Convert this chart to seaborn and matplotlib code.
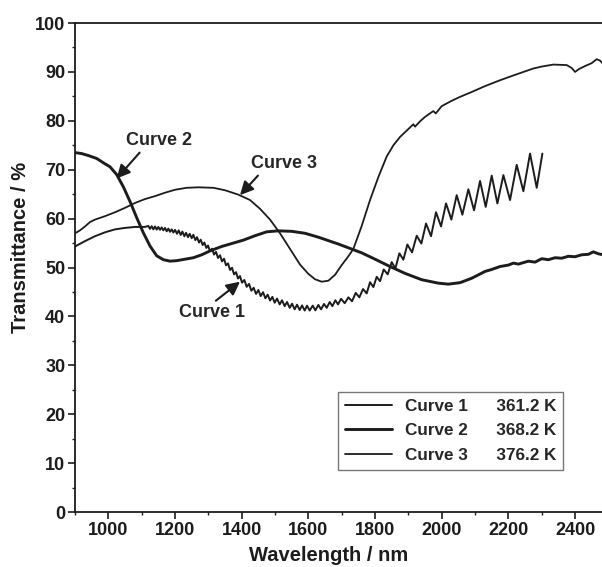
import pandas as pd
import matplotlib
matplotlib.use("Agg")
import matplotlib.pyplot as plt
import seaborn as sns
from matplotlib.ticker import MultipleLocator

sns.set_style("ticks")
plt.rcParams['font.family'] = ['Liberation Sans', 'DejaVu Sans']
plt.rcParams['font.weight'] = 'bold'
plt.rcParams['axes.labelweight'] = 'bold'

# Curve 1 (361.2 K) - interference fringes read peak by peak
curve1_wl = [900, 930, 960, 990, 1020, 1050, 1080, 1110,
             1120, 1125, 1130, 1135, 1140, 1145, 1150, 1155, 1160, 1165, 1170, 1175, 1180, 1185, 1190, 1195, 1200,
             1206, 1211, 1217, 1222, 1228, 1233, 1239, 1244, 1250, 1255, 1261, 1266, 1272, 1277, 1283, 1288, 1294, 1299,
             1305, 1311, 1317, 1323, 1329, 1335, 1341, 1347, 1353, 1359, 1365, 1371, 1377, 1383, 1389, 1395, 1401,
             1408, 1415, 1422, 1429, 1436, 1443, 1450, 1457, 1464, 1471, 1478, 1485, 1492, 1499,
             1506, 1514, 1521, 1529, 1536, 1544, 1551, 1559, 1566, 1574, 1581, 1589, 1596,
             1604, 1613, 1621, 1630, 1638, 1647, 1655, 1664, 1672, 1681, 1689, 1698,
             1709, 1720, 1731, 1742, 1753, 1764, 1775, 1785, 1795, 1805, 1815, 1826, 1838, 1850, 1861, 1873,
             1885, 1897, 1911, 1925, 1939, 1953, 1968, 1983, 1998, 2013, 2029, 2045, 2062, 2080, 2097, 2115,
             2132, 2150, 2167, 2185, 2205, 2225, 2245, 2265, 2285, 2302]
curve1_t = [54.3, 55.4, 56.4, 57.2, 57.8, 58.1, 58.3, 58.3,
            58.5, 57.9, 58.45, 57.8, 58.4, 57.75, 58.3, 57.7, 58.2, 57.6, 58.1, 57.4, 57.95, 57.3, 57.8, 57.15, 57.7,
            56.9, 57.6, 56.65, 57.35, 56.4, 57.1, 56.2, 56.9, 56.0, 56.7, 55.6, 56.2, 55.1, 55.7, 54.6, 55.1, 54.0, 54.5,
            53.35, 53.85, 52.65, 53.2, 51.95, 52.5, 51.25, 51.8, 50.45, 50.85, 49.5, 49.95, 48.6, 49.05, 47.75, 48.25, 46.9,
            47.45, 46.05, 46.65, 45.25, 45.85, 44.6, 45.4, 44.15, 44.95, 43.7, 44.45, 43.25, 44.0, 42.8,
            43.65, 42.45, 43.3, 42.1, 42.95, 41.75, 42.6, 41.45, 42.4, 41.3, 42.25, 41.2, 42.2,
            41.2, 42.2, 41.25, 42.35, 41.45, 42.55, 41.75, 42.95, 42.1, 43.3, 42.45, 43.6,
            42.7, 43.9, 43.1, 44.8, 43.9, 45.6, 44.7, 47.0, 46.0, 48.1, 47.2, 49.6, 48.6, 51.1, 49.8, 52.9,
            51.6, 54.7, 53.1, 56.5, 54.9, 59.0, 56.4, 61.3, 58.4, 63.1, 59.8, 64.8, 60.8, 66.0, 61.7, 67.7,
            62.4, 68.8, 63.1, 68.9, 63.8, 71.0, 65.6, 73.3, 66.3, 73.3]

# Curve 2 (368.2 K)
curve2_wl = [900, 920, 940, 965, 990, 1005, 1025, 1045, 1065, 1085, 1105, 1125, 1145, 1165, 1185,
             1205, 1230, 1255, 1280, 1305, 1340, 1370, 1405, 1440, 1475, 1510, 1550, 1590, 1630,
             1660, 1690, 1725, 1760, 1800, 1845, 1890, 1940, 1990, 2020, 2055, 2090, 2130, 2150,
             2175, 2200, 2215, 2230, 2260, 2280, 2300, 2320, 2340, 2360, 2380, 2400, 2420, 2440,
             2455, 2470, 2485]
curve2_t = [73.5, 73.3, 72.9, 72.3, 71.2, 70.6, 69.0, 66.5, 63.5, 60.2, 57.1, 54.4, 52.4, 51.6, 51.3,
            51.4, 51.7, 52.0, 52.6, 53.4, 54.3, 54.9, 55.6, 56.5, 57.3, 57.5, 57.4, 57.0, 56.2,
            55.5, 54.8, 53.9, 53.0, 51.7, 50.2, 48.8, 47.5, 46.8, 46.6, 46.9, 47.8, 49.2, 49.6,
            50.2, 50.5, 50.9, 50.7, 51.3, 51.1, 51.8, 51.6, 52.0, 51.9, 52.3, 52.2, 52.6, 52.7,
            53.2, 52.8, 52.6]

# Curve 3 (376.2 K)
curve3_wl = [900, 915, 930, 945, 960, 990, 1020, 1050, 1080, 1110, 1140, 1170, 1200, 1235, 1270,
             1315, 1350, 1390, 1425, 1455, 1485, 1515, 1545, 1575, 1600, 1620, 1640, 1660, 1680,
             1700, 1720, 1735, 1760, 1785, 1810, 1835, 1855, 1875, 1895, 1915, 1920, 1935, 1950,
             1975, 1982, 2000, 2030, 2055, 2090, 2130, 2175, 2220, 2275, 2300, 2335, 2375, 2390,
             2400, 2412, 2430, 2450, 2465, 2475, 2485]
curve3_t = [57.0, 57.6, 58.4, 59.3, 59.8, 60.5, 61.3, 62.2, 63.2, 64.0, 64.6, 65.3, 65.9, 66.3, 66.4,
            66.3, 65.8, 64.9, 63.8, 62.0, 59.8, 57.0, 53.8, 50.6, 48.7, 47.6, 47.1, 47.3, 48.5,
            50.5, 52.3, 53.8, 58.5, 63.8, 68.5, 72.7, 75.0, 76.7, 78.0, 79.3, 78.8, 79.9, 80.8,
            82.0, 81.5, 83.0, 84.1, 84.9, 85.9, 87.1, 88.3, 89.4, 90.7, 91.1, 91.5, 91.4, 90.8,
            90.0, 90.6, 91.2, 91.8, 92.6, 92.3, 91.6]

labels = ["Curve 1", "Curve 2", "Curve 3"]
temps = ["361.2 K", "368.2 K", "376.2 K"]

ink = "#1c1c1c"

fig = plt.figure(figsize=(6.02, 5.67), dpi=100)
ax = fig.add_axes([0.1246, 0.097, 0.8777, 0.8624])

curves = [(curve1_wl, curve1_t, 1.4), (curve2_wl, curve2_t, 2.1), (curve3_wl, curve3_t, 1.3)]
for (wl, t, lw), name, temp in zip(curves, labels, temps):
    d = pd.DataFrame({"wl": wl, "t": t})
    sns.lineplot(data=d, x="wl", y="t", ax=ax, color=ink, lw=lw, estimator=None, sort=False,
                 solid_joinstyle='round', label=name + "      " + temp)

ax.set_xlim(900, 2485)
ax.set_ylim(0, 100)
ax.xaxis.set_major_locator(MultipleLocator(200))
ax.xaxis.set_minor_locator(MultipleLocator(100))
ax.yaxis.set_major_locator(MultipleLocator(10))
ax.yaxis.set_minor_locator(MultipleLocator(5))
ax.tick_params(which='major', direction='out', length=5, width=1.2, labelsize=13, pad=2, colors=ink)
ax.tick_params(which='minor', direction='out', length=2.5, width=1.0, colors=ink)
for lab in ax.get_xticklabels() + ax.get_yticklabels():
    lab.set_fontweight('bold')
for s in ax.spines.values():
    s.set_linewidth(1.3)
    s.set_color(ink)

ax.set_xlabel("Wavelength / nm", fontsize=14.5, fontweight='bold', color=ink)
ax.set_ylabel("Transmittance / %", fontsize=14.5, fontweight='bold', color=ink)
ax.xaxis.set_label_coords(0.48, -0.07)
ax.yaxis.set_label_coords(-0.085, 0.541)

arrow = dict(arrowstyle='-|>', color=ink, lw=1.5, mutation_scale=20, shrinkA=0, shrinkB=0)
ax.annotate("Curve 2", xy=(1025, 68.2), xytext=(1152, 75.9), fontsize=13, fontweight='bold',
            ha='center', va='center', arrowprops=dict(arrow, relpos=(0.25, 0.0)))
ax.annotate("Curve 3", xy=(1395, 64.8), xytext=(1527, 71.2), fontsize=13, fontweight='bold',
            ha='center', va='center', arrowprops=dict(arrow, relpos=(0.15, 0.0)))
ax.annotate("Curve 1", xy=(1395, 47.1), xytext=(1310, 40.8), fontsize=13, fontweight='bold',
            ha='center', va='center', arrowprops=dict(arrow, relpos=(0.5, 1.0)))

leg = ax.legend(loc='upper left', bbox_to_anchor=(0.498, 0.246), borderaxespad=0, fontsize=12.3,
                frameon=True, fancybox=False, handlelength=2.75, handletextpad=0.75,
                labelspacing=0.58, borderpad=0.4)
leg.get_frame().set_edgecolor('#555555')
leg.get_frame().set_linewidth(1.0)
for txt in leg.get_texts():
    txt.set_fontweight('bold')

fig.savefig("out.png", dpi=100)
